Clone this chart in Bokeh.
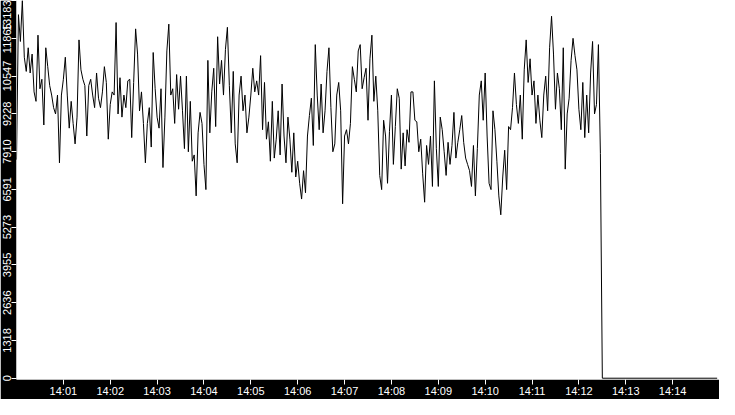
from datetime import datetime, timedelta
import pandas as pd
from bokeh.plotting import figure
from bokeh.models import Range1d, FixedTicker, DatetimeTickFormatter, ColumnDataSource
from bokeh.embed import file_html
from bokeh.resources import INLINE

# ---------------- data ----------------
day = "2024-01-01"
start_time = "14:00:00"        # first sample
sample_seconds = 2.5           # sampling interval of the series
x_start_time = "14:00:00"
x_end_time = "14:15:00"

values = [
    # 14:00:00 - 14:02:05
    7628, 12688, 11753, 13183, 11203, 10708, 11533, 10653, 11313, 9993,
    9663, 11973, 10103, 10433, 8838, 11533, 10873, 10213, 9883, 9443,
    9223, 9883, 7518, 9883, 10433, 11203, 9883, 8728, 9663, 8893,
    8178, 9113, 11808, 10763, 10433, 10213, 8453, 10213, 10433, 9883,
    9443, 10653, 9773, 9443, 9993, 10873, 10323, 8343, 9553, 9993,
    9883,
    # 14:02:07 - 14:04:10
    12413, 9223, 10488, 9113, 9883, 9443, 10378, 10433, 8398, 10323,
    12193, 11313, 9333, 9993, 8893, 7518, 8893, 9443, 8068, 11368,
    10103, 9113, 8728, 10103, 7353, 9113, 11423, 12358, 9883, 10103,
    8893, 10598, 9388, 10543, 9333, 8013, 10543, 7903, 9663, 7573,
    7793, 6363, 8563, 9278, 8893, 7463, 6583, 11093, 8563, 9993,
    # 14:04:12 - 14:06:15
    10818, 8783, 11918, 10268, 11093, 9883, 11478, 12248, 10213, 8563,
    10708, 8178, 7518, 9883, 10543, 9333, 9883, 8563, 9113, 9883,
    10818, 9993, 10378, 9883, 11258, 8673, 10323, 8343, 8948, 7573,
    9663, 7683, 8343, 9333, 7793, 10268, 8453, 7518, 9113, 8343,
    7188, 8563, 7023, 7573, 6803, 6253, 7243, 6473, 8453, 9168,
    # 14:06:17 - 14:08:20
    9773, 8123, 11643, 9883, 8673, 10268, 8563, 9333, 10708, 11533,
    9443, 7903, 8178, 9883, 10323, 9333, 6088, 8453, 8673, 8178,
    8893, 10873, 10433, 9993, 11423, 11643, 10103, 10488, 10818, 9003,
    11148, 11973, 9663, 10543, 9333, 7078, 6583, 9003, 8453, 6803,
    8618, 9883, 7463, 8783, 10103, 9773, 7298, 8563, 7408, 8673,
    # 14:08:22 - 14:10:25
    8233, 9993, 9993, 9003, 8948, 7903, 8343, 7133, 6143, 8123,
    7463, 8453, 6693, 10378, 8013, 6693, 9113, 8673, 7903, 7078,
    8233, 7463, 8123, 9278, 7683, 8233, 8673, 9168, 8233, 7683,
    7463, 7243, 6693, 8123, 6363, 8013, 9883, 10378, 9003, 10653,
    8453, 6803, 6583, 9333, 8673, 7573, 6363, 5703, 7023, 7958,
    # 14:10:27 - 14:12:30
    6583, 8783, 8673, 9443, 10653, 9553, 8893, 9883, 8343, 10763,
    11808, 10323, 11148, 9883, 10378, 8893, 9883, 9003, 8398, 9883,
    10543, 9333, 11533, 12633, 11313, 9388, 10653, 10103, 8673, 11533,
    7298, 9223, 9773, 11093, 11863, 11258, 10763, 9388, 8673, 10323,
    8398, 9883, 8563, 10653, 11753, 9223, 9553, 11643, 7848, 0,
]
tail_times = ["14:14:57"]
tail_values = [0]

ytick_values = [0, 1318, 2636, 3955, 5273, 6591, 7910, 9228, 10547, 11865, 13183]
ytick_labels = ["0", "1318", "2636", "3955", "5273", "6591", "7910", "9228", "10547", "11865", "13183"]
xtick_labels = ["14:01", "14:02", "14:03", "14:04", "14:05", "14:06", "14:07",
                "14:08", "14:09", "14:10", "14:11", "14:12", "14:13", "14:14"]

# ---------------- build ----------------
def ts(hms):
    return datetime.fromisoformat(f"{day}T{hms}")

t0 = ts(start_time)
times = [t0 + timedelta(seconds=sample_seconds * i) for i in range(len(values))]
times += [ts(t) for t in tail_times]
vals = values + tail_values
src = ColumnDataSource(dict(t=times, v=vals))

p = figure(width=719, height=399, x_axis_type="datetime",
           output_backend="svg", toolbar_location=None,
           x_range=Range1d(ts(x_start_time), ts(x_end_time)),
           y_range=Range1d(-45, max(ytick_values)),
           min_border=0)

p.line("t", "v", source=src, line_color="black", line_width=1)

p.border_fill_color = "black"
p.background_fill_color = "white"
p.outline_line_color = None
p.grid.visible = False

for ax in p.axis:
    ax.axis_line_color = None
    ax.major_tick_line_color = "white"
    ax.major_tick_in = 0
    ax.major_tick_out = 5
    ax.minor_tick_line_color = None
    ax.major_label_text_color = "white"
    ax.major_label_text_font = "Liberation Sans"
    ax.major_label_text_font_size = "11px"
    ax.major_label_standoff = 0

xticks = [pd.Timestamp(f"{day} {lab}").value // 10**6 for lab in xtick_labels]
p.xaxis.ticker = FixedTicker(ticks=xticks)
p.xaxis.formatter = DatetimeTickFormatter(minutes="%H:%M", hourmin="%H:%M",
                                          minsec="%H:%M", hours="%H:%M")

p.yaxis.ticker = FixedTicker(ticks=ytick_values)
p.yaxis.major_label_overrides = {v: lab for v, lab in zip(ytick_values, ytick_labels)}
p.yaxis.major_label_orientation = "vertical"

open("out.html", "w").write(file_html(p, INLINE))
